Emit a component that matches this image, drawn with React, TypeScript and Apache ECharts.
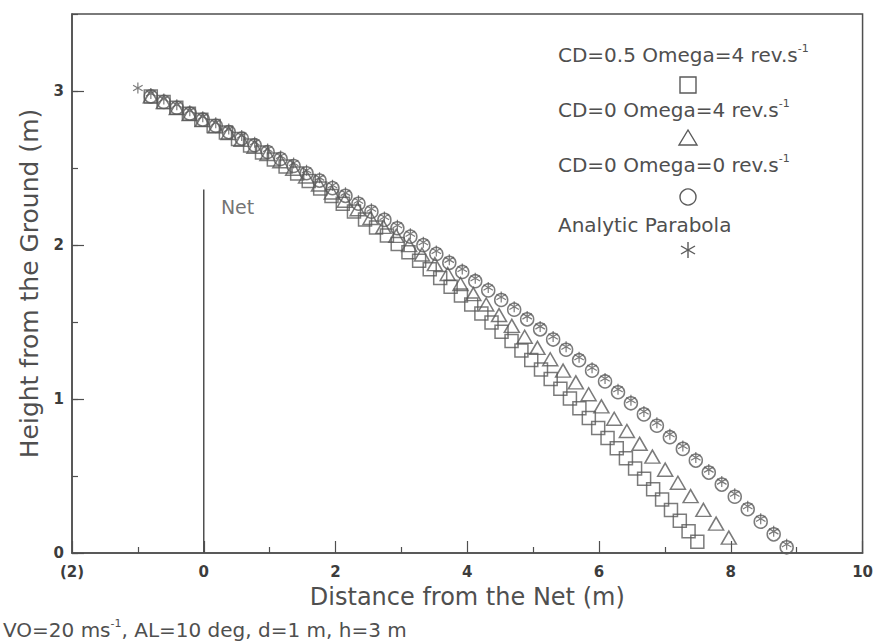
import React, { useEffect, useRef } from 'react';
import * as echarts from 'echarts';

// Analytic parabola (asterisks), starts at the serve point
const parabolaX = [-1.000,-0.803,-0.606,-0.409,-0.212,-0.015,0.182,0.379,0.576,0.773,0.970,1.167,1.364,1.560,1.757,1.954,2.151,2.348,2.545,2.742,2.939,3.136,3.333,3.530,3.727,3.924,4.121,4.318,4.515,4.712,4.909,5.106,5.303,5.500,5.697,5.894,6.091,6.288,6.484,6.681,6.878,7.075,7.272,7.469,7.666,7.863,8.060,8.257,8.454,8.651,8.848];
const parabolaY = [3.000,2.965,2.929,2.891,2.853,2.814,2.774,2.733,2.691,2.648,2.604,2.559,2.513,2.466,2.418,2.369,2.319,2.268,2.216,2.163,2.109,2.054,1.999,1.942,1.884,1.825,1.765,1.705,1.643,1.580,1.517,1.452,1.386,1.320,1.252,1.184,1.114,1.044,0.972,0.900,0.826,0.752,0.676,0.600,0.522,0.444,0.365,0.284,0.203,0.121,0.037];

// CD=0 Omega=0 (circles)
const circleX = [-0.803,-0.606,-0.409,-0.212,-0.015,0.182,0.379,0.576,0.773,0.970,1.167,1.364,1.560,1.757,1.954,2.151,2.348,2.545,2.742,2.939,3.136,3.333,3.530,3.727,3.924,4.121,4.318,4.515,4.712,4.909,5.106,5.303,5.500,5.697,5.894,6.091,6.288,6.484,6.681,6.878,7.075,7.272,7.469,7.666,7.863,8.060,8.257,8.454,8.651,8.848];
const circleY = [2.965,2.929,2.891,2.853,2.814,2.774,2.733,2.691,2.648,2.604,2.559,2.513,2.466,2.418,2.369,2.319,2.268,2.216,2.163,2.109,2.054,1.999,1.942,1.884,1.825,1.765,1.705,1.643,1.580,1.517,1.452,1.386,1.320,1.252,1.184,1.114,1.044,0.972,0.900,0.826,0.752,0.676,0.600,0.522,0.444,0.365,0.284,0.203,0.121,0.037];

// CD=0 Omega=4 (triangles)
const triangleX = [-0.803,-0.606,-0.409,-0.213,-0.016,0.180,0.377,0.573,0.770,0.966,1.162,1.358,1.553,1.749,1.944,2.140,2.336,2.531,2.727,2.922,3.117,3.312,3.508,3.703,3.897,4.092,4.287,4.482,4.676,4.871,5.065,5.259,5.454,5.648,5.842,6.036,6.230,6.423,6.616,6.810,7.004,7.197,7.390,7.584,7.777,7.970];
const triangleY = [2.965,2.928,2.890,2.851,2.811,2.770,2.727,2.683,2.638,2.591,2.544,2.495,2.445,2.393,2.341,2.287,2.232,2.175,2.118,2.059,1.999,1.938,1.876,1.812,1.747,1.681,1.614,1.545,1.475,1.404,1.332,1.258,1.184,1.108,1.031,0.952,0.872,0.792,0.709,0.626,0.541,0.456,0.369,0.280,0.191,0.100];

// CD=0.5 Omega=4 (squares)
const squareX = [-0.804,-0.610,-0.417,-0.226,-0.037,0.150,0.336,0.520,0.703,0.884,1.064,1.242,1.418,1.593,1.767,1.939,2.110,2.280,2.448,2.615,2.780,2.944,3.107,3.269,3.430,3.589,3.747,3.904,4.060,4.214,4.368,4.520,4.672,4.822,4.971,5.119,5.266,5.413,5.558,5.702,5.845,5.987,6.129,6.269,6.408,6.547,6.684,6.821,6.957,7.092,7.226,7.359,7.492];
const squareY = [2.965,2.929,2.891,2.853,2.813,2.773,2.731,2.689,2.646,2.601,2.556,2.510,2.464,2.416,2.367,2.318,2.268,2.217,2.166,2.114,2.061,2.007,1.953,1.898,1.842,1.786,1.729,1.672,1.614,1.555,1.496,1.437,1.376,1.315,1.254,1.192,1.130,1.067,1.004,0.940,0.876,0.811,0.746,0.680,0.615,0.548,0.482,0.414,0.347,0.279,0.210,0.142,0.073];

// Net
const netX = [0, 0];
const netY = [0, 2.36];
const netLabel = [0.26, 2.245];

const legendLabels = ['CD=0.5 Omega=4 rev.s', 'CD=0 Omega=4 rev.s', 'CD=0 Omega=0 rev.s', 'Analytic Parabola'];
const legendSup = ['-1', '-1', '-1', ''];

const FONT = 'DejaVu Sans';
const INK = '#4f4f4f';
const MARK = '#5a5a5a';

const zip = (xs: number[], ys: number[]) => xs.map((x, i) => [x, ys[i]]);

const ASTERISK = 'path://M10 0L10 20M1.34 5L18.66 15M1.34 15L18.66 5';

export default function App() {
  const ref = useRef<HTMLDivElement>(null);
  useEffect(() => {
    if (!ref.current) return;
    const chart = echarts.init(ref.current, undefined, { renderer: 'svg' });
    const hollow = { color: 'rgba(0,0,0,0)', borderColor: MARK, borderWidth: 1.5 };

    const legendTextY = [55, 110, 165, 225];
    const legendMarkY = [85, 138, 197, 250];
    const lx = 558;
    const mx = 688;
    const graphic: any[] = [];
    legendLabels.forEach((lab, i) => {
      const sup = legendSup[i];
      graphic.push({
        type: 'text',
        x: lx,
        y: legendTextY[i],
        z: 10,
        style: {
          text: sup ? `{a|${lab}}{b|${sup}}` : `{a|${lab}}`,
          rich: {
            a: { fontSize: 20, fontFamily: FONT, fill: INK, color: INK, lineHeight: 24 },
            b: { fontSize: 11, fontFamily: FONT, fill: INK, color: INK, verticalAlign: 'top', lineHeight: 24 },
          },
          verticalAlign: 'middle',
        },
      });
    });
    const ms = { stroke: MARK, fill: 'none', lineWidth: 1.4 };
    graphic.push({ type: 'rect', shape: { x: mx - 8, y: legendMarkY[0] - 8, width: 16, height: 16 }, style: ms, z: 10 });
    graphic.push({ type: 'polygon', shape: { points: [[mx - 9, legendMarkY[1] + 7], [mx + 9, legendMarkY[1] + 7], [mx, legendMarkY[1] - 8]] }, style: ms, z: 10 });
    graphic.push({ type: 'circle', shape: { cx: mx, cy: legendMarkY[2], r: 8 }, style: ms, z: 10 });
    const ay = legendMarkY[3];
    graphic.push({ type: 'line', shape: { x1: mx, y1: ay - 8, x2: mx, y2: ay + 8 }, style: ms, z: 10 });
    graphic.push({ type: 'line', shape: { x1: mx - 7, y1: ay - 4, x2: mx + 7, y2: ay + 4 }, style: ms, z: 10 });
    graphic.push({ type: 'line', shape: { x1: mx - 7, y1: ay + 4, x2: mx + 7, y2: ay - 4 }, style: ms, z: 10 });
    graphic.push({
      type: 'text',
      x: 3,
      y: 630,
      style: {
        text: '{a|VO=20 ms}{b|-1}{a|, AL=10 deg, d=1 m, h=3 m}',
        rich: {
          a: { fontSize: 20, fontFamily: FONT, fill: INK, color: INK, lineHeight: 24 },
          b: { fontSize: 11, fontFamily: FONT, fill: INK, color: INK, verticalAlign: 'top', lineHeight: 24 },
        },
        verticalAlign: 'middle',
      },
    });

    const axisCommon = {
      axisLine: { show: true, onZero: false, lineStyle: { color: INK, width: 1.5 } },
      axisTick: { show: true, inside: true, length: 12, lineStyle: { color: INK, width: 1.2 } },
      splitLine: { show: false },
      nameTextStyle: { fontSize: 25, color: INK, fontFamily: FONT },
    };
    const tickLabel = { fontSize: 15, color: '#3c3c3c', fontFamily: FONT, fontWeight: 'bold' as const };

    chart.setOption({
      animation: false,
      backgroundColor: '#fff',
      textStyle: { fontFamily: FONT },
      grid: { left: 72, right: 13, top: 14, bottom: 90, show: true, borderColor: INK, borderWidth: 1.5, backgroundColor: 'transparent' },
      xAxis: {
        type: 'value',
        min: -2,
        max: 10,
        interval: 2,
        name: 'Distance from the Net (m)',
        nameLocation: 'middle',
        nameGap: 32,
        ...axisCommon,
        nameTextStyle: { fontSize: 24, color: INK, fontFamily: FONT },
        minorTick: { show: true, splitNumber: 2, length: 6, lineStyle: { color: INK, width: 1.2 } },
        axisLabel: {
          ...tickLabel,
          margin: 11,
          formatter: (v: number) => (v < 0 ? `(${Math.abs(v)})` : String(v)),
        },
      },
      yAxis: [
        {
          type: 'value',
          min: 0,
          max: 3.5,
          interval: 1,
          name: 'Height from the Ground (m)',
          nameLocation: 'middle',
          nameGap: 30,
          ...axisCommon,
          axisLabel: { ...tickLabel, margin: 8, showMaxLabel: false, formatter: (v: number) => (Number.isInteger(v) ? String(v) : '') },
        },
        {
          type: 'value',
          min: 0,
          max: 3.5,
          interval: 0.5,
          position: 'left',
          axisLine: { show: false, onZero: false },
          axisTick: { show: true, inside: true, length: 6, lineStyle: { color: INK, width: 1.2 } },
          axisLabel: { show: false },
          splitLine: { show: false },
        },
      ],
      graphic,
      series: [
        {
          type: 'line',
          data: zip(netX, netY),
          symbol: 'none',
          lineStyle: { color: INK, width: 1.5 },
          z: 1,
        },
        {
          type: 'scatter',
          data: [netLabel],
          symbolSize: 0,
          label: { show: true, formatter: 'Net', position: 'inside', align: 'left', fontSize: 19, color: INK, fontFamily: FONT },
        },
        { type: 'scatter', name: 'CD=0.5 Omega=4', data: zip(squareX, squareY), symbol: 'rect', symbolSize: 13, itemStyle: hollow, z: 2 },
        { type: 'scatter', name: 'CD=0 Omega=4', data: zip(triangleX, triangleY), symbol: 'triangle', symbolSize: [15, 13], itemStyle: hollow, z: 3 },
        { type: 'scatter', name: 'CD=0 Omega=0', data: zip(circleX, circleY), symbol: 'circle', symbolSize: 13, itemStyle: hollow, z: 4 },
        { type: 'scatter', name: 'Analytic Parabola', data: zip(parabolaX, parabolaY), symbol: ASTERISK, symbolSize: 11, symbolKeepAspect: true, symbolOffset: [0, -3], itemStyle: { color: 'rgba(0,0,0,0)', borderColor: MARK, borderWidth: 1.2 }, z: 5 },
      ],
    });
    return () => chart.dispose();
  }, []);
  return <div ref={ref} style={{ position: 'absolute', left: 0, top: 0, width: 876, height: 643 }} />;
}
